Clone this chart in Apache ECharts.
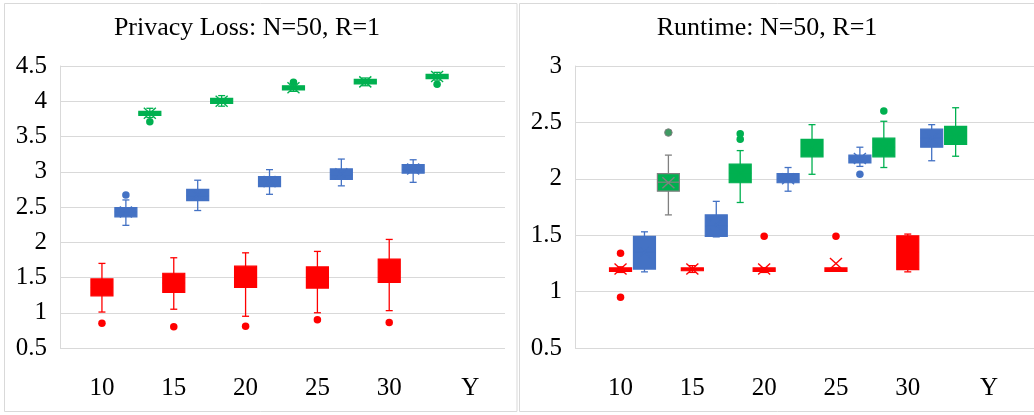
<!DOCTYPE html>
<html>
<head>
<meta charset="utf-8">
<script src="https://cdn.jsdelivr.net/npm/echarts@6/dist/echarts.min.js"></script>
<style>
html,body{margin:0;padding:0;background:#fff;}
#chart{width:1034px;height:415px;}
</style>
</head>
<body>
<div id="chart"></div>
<script>
// ---------------- DATA ----------------
const categories = [10, 15, 20, 25, 30];
const xTickLabels = ['10', '15', '20', '25', '30', 'Y'];
const seriesNames = ['red', 'blue', 'green'];

// Each box: [min, Q1, median, Q3, max, mean]
const privacyRed = [
  [1.01, 1.24, 1.36, 1.48, 1.70, 1.36],
  [1.05, 1.29, 1.42, 1.56, 1.78, 1.43],
  [0.95, 1.36, 1.50, 1.66, 1.85, 1.50],
  [1.00, 1.35, 1.50, 1.65, 1.87, 1.50],
  [1.03, 1.43, 1.58, 1.76, 2.04, 1.60]
];
const privacyRedOutliers = [[0.85], [0.80], [0.81], [0.90], [0.86]];

const privacyBlue = [
  [2.24, 2.36, 2.43, 2.49, 2.60, 2.43],
  [2.45, 2.59, 2.66, 2.75, 2.88, 2.67],
  [2.68, 2.79, 2.86, 2.93, 3.03, 2.86],
  [2.80, 2.89, 2.96, 3.04, 3.18, 2.97],
  [2.85, 2.98, 3.03, 3.10, 3.17, 3.04]
];
const privacyBlueOutliers = [[2.67], [], [], [], []];

const privacyGreen = [
  [3.77, 3.80, 3.83, 3.855, 3.90, 3.83],
  [3.93, 3.97, 4.00, 4.04, 4.08, 4.00],
  [4.14, 4.16, 4.19, 4.22, 4.25, 4.19],
  [4.22, 4.245, 4.275, 4.31, 4.33, 4.275],
  [4.30, 4.32, 4.35, 4.38, 4.41, 4.35]
];
const privacyGreenOutliers = [[3.71], [], [4.27], [], [4.24]];

const runtimeRed = [
  [1.17, 1.18, 1.20, 1.21, 1.22, 1.20],
  [1.17, 1.185, 1.20, 1.21, 1.23, 1.20],
  [1.17, 1.18, 1.19, 1.21, 1.21, 1.20],
  [1.18, 1.18, 1.19, 1.21, 1.21, 1.25],
  [1.175, 1.195, 1.35, 1.495, 1.51, 1.35]
];
const runtimeRedOutliers = [[1.34, 0.95], [], [1.49], [1.49], []];

const runtimeBlue = [
  [1.175, 1.20, 1.35, 1.49, 1.53, 1.35],
  [1.485, 1.49, 1.58, 1.68, 1.80, 1.59],
  [1.89, 1.965, 2.00, 2.045, 2.10, 2.00],
  [2.11, 2.14, 2.18, 2.21, 2.28, 2.18],
  [2.16, 2.28, 2.36, 2.44, 2.48, 2.36]
];
const runtimeBlueOutliers = [[], [], [], [2.04], []];

const runtimeGreen = [
  [1.68, 1.89, 1.97, 2.045, 2.21, 1.965],
  [1.79, 1.965, 2.05, 2.13, 2.25, 2.05],
  [2.04, 2.195, 2.27, 2.35, 2.48, 2.27],
  [2.10, 2.195, 2.28, 2.36, 2.51, 2.28],
  [2.20, 2.305, 2.38, 2.465, 2.63, 2.38]
];
const runtimeGreenOutliers = [[2.41], [2.35, 2.40], [], [2.60], []];

// ---------------- STYLE / LAYOUT ----------------
const COLORS = { red: '#FF0000', blue: '#4472C4', green: '#00B050' };
const GREY = '#808080';
const FONT = '"Liberation Serif", "Times New Roman", "DejaVu Serif", serif';
const SLOT = 5 / 3;       // offset between the three boxes of one group (axis units)
const BOX_W = 22, CAP_W = 7, MEAN_HX = 6, MEAN_HY = 5.5;
const Y_LABEL_POS = 35.65; // axis position of the trailing "Y" label
const xTickValues = categories.concat([Y_LABEL_POS]);

function boxItems(boxes, sIdx) {
  return boxes.map((b, i) => [categories[i] + SLOT * sIdx].concat(b));
}
function outlierItems(outs, sIdx, special) {
  const res = [];
  outs.forEach((arr, i) => arr.forEach(v => {
    const item = { value: [categories[i] + SLOT * sIdx, v] };
    if (special && special(i)) item.itemStyle = { color: '#3f9a63', borderColor: GREY, borderWidth: 1 };
    res.push(item);
  }));
  return res;
}

function makeRenderer(color, strokeFor) {
  return function (params, api) {
    const x = api.value(0);
    const pt = v => api.coord([x, v]);
    const pMin = pt(api.value(1)), pQ1 = pt(api.value(2)), pMed = pt(api.value(3));
    const pQ3 = pt(api.value(4)), pMax = pt(api.value(5)), pMean = pt(api.value(6));
    const cx = pMin[0];
    const sc = strokeFor(params.dataIndex);
    const lw = { stroke: sc, lineWidth: 1.3 };
    return {
      type: 'group',
      children: [
        { type: 'line', shape: { x1: cx, y1: pMax[1], x2: cx, y2: pMin[1] }, style: lw },
        { type: 'line', shape: { x1: cx - CAP_W / 2, y1: pMax[1], x2: cx + CAP_W / 2, y2: pMax[1] }, style: lw },
        { type: 'line', shape: { x1: cx - CAP_W / 2, y1: pMin[1], x2: cx + CAP_W / 2, y2: pMin[1] }, style: lw },
        { type: 'rect', shape: { x: cx - BOX_W / 2, y: pQ3[1], width: BOX_W, height: Math.max(pQ1[1] - pQ3[1], 0.5) },
          style: { fill: color, stroke: sc, lineWidth: 1.2 } },
        { type: 'line', shape: { x1: cx - BOX_W / 2, y1: pMed[1], x2: cx + BOX_W / 2, y2: pMed[1] }, style: { stroke: sc, lineWidth: 1.2 } },
        { type: 'line', shape: { x1: cx - MEAN_HX, y1: pMean[1] - MEAN_HY, x2: cx + MEAN_HX, y2: pMean[1] + MEAN_HY }, style: { stroke: sc, lineWidth: 1.4 } },
        { type: 'line', shape: { x1: cx - MEAN_HX, y1: pMean[1] + MEAN_HY, x2: cx + MEAN_HX, y2: pMean[1] - MEAN_HY }, style: { stroke: sc, lineWidth: 1.4 } }
      ]
    };
  };
}

const panels = [
  { title: 'Privacy Loss: N=50, R=1', boxes: [privacyRed, privacyBlue, privacyGreen],
    outs: [privacyRedOutliers, privacyBlueOutliers, privacyGreenOutliers],
    grid: { left: 60, right: 529, top: 66, bottom: 67 }, xMin: 7.08, xMax: 38.06,
    yMin: 0.5, yMax: 4.5, titleX: 247, special: null },
  { title: 'Runtime: N=50, R=1', boxes: [runtimeRed, runtimeBlue, runtimeGreen],
    outs: [runtimeRedOutliers, runtimeBlueOutliers, runtimeGreenOutliers],
    grid: { left: 575, right: 0, top: 66, bottom: 67 }, xMin: 6.83, xMax: 38.79,
    yMin: 0.5, yMax: 3, titleX: 767, special: { s: 2, i: 0 } }
];

const option = {
  animation: false,
  backgroundColor: '#fff',
  grid: [], xAxis: [], yAxis: [], series: [],
  graphic: [
    { type: 'rect', shape: { x: 4.5, y: 3.5, width: 512.5, height: 408 }, style: { fill: 'none', stroke: '#d9d9d9', lineWidth: 1 }, silent: true },
    { type: 'rect', shape: { x: 519.5, y: 3.5, width: 530, height: 408 }, style: { fill: 'none', stroke: '#d9d9d9', lineWidth: 1 }, silent: true }
  ]
};

panels.forEach((p, gi) => {
  option.grid.push(p.grid);
  option.xAxis.push({
    type: 'value', gridIndex: gi, min: p.xMin, max: p.xMax,
    axisLine: { show: false }, axisTick: { show: false }, splitLine: { show: false },
    axisLabel: {
      customValues: xTickValues,
      formatter: (v) => { const k = xTickValues.findIndex(t => Math.abs(t - v) < 1e-6); return k >= 0 ? xTickLabels[k] : ''; },
      fontFamily: FONT, fontSize: 25, color: '#000', margin: 28
    }
  });
  option.yAxis.push({
    type: 'value', gridIndex: gi, min: p.yMin, max: p.yMax, interval: 0.5,
    axisLine: { show: true, lineStyle: { color: '#d9d9d9', width: 1 } },
    axisTick: { show: false },
    splitLine: { show: true, lineStyle: { color: '#d9d9d9', width: 1 } },
    axisLabel: { fontFamily: FONT, fontSize: 25, color: '#000', margin: 13 }
  });
  option.graphic.push({
    type: 'text', x: p.titleX, y: 28, silent: true,
    style: { text: p.title, font: '26px ' + FONT, fill: '#000', textAlign: 'center', textVerticalAlign: 'middle' }
  });
  seriesNames.forEach((name, sIdx) => {
    const color = COLORS[name];
    const isSpecial = (i) => p.special && p.special.s === sIdx && p.special.i === i;
    option.series.push({
      type: 'custom', name: name, xAxisIndex: gi, yAxisIndex: gi,
      renderItem: makeRenderer(color, (i) => isSpecial(i) ? GREY : color),
      encode: { x: 0, y: [1, 2, 3, 4, 5] },
      data: boxItems(p.boxes[sIdx], sIdx), clip: false, z: 2
    });
    option.series.push({
      type: 'scatter', name: name + ' outliers', xAxisIndex: gi, yAxisIndex: gi,
      symbol: 'circle', symbolSize: 7.5, itemStyle: { color: color, opacity: 1 },
      data: outlierItems(p.outs[sIdx], sIdx, isSpecial), z: 3
    });
  });
});

const chart = echarts.init(document.getElementById('chart'), null, { renderer: 'canvas' });
chart.setOption(option);
</script>
</body>
</html>
